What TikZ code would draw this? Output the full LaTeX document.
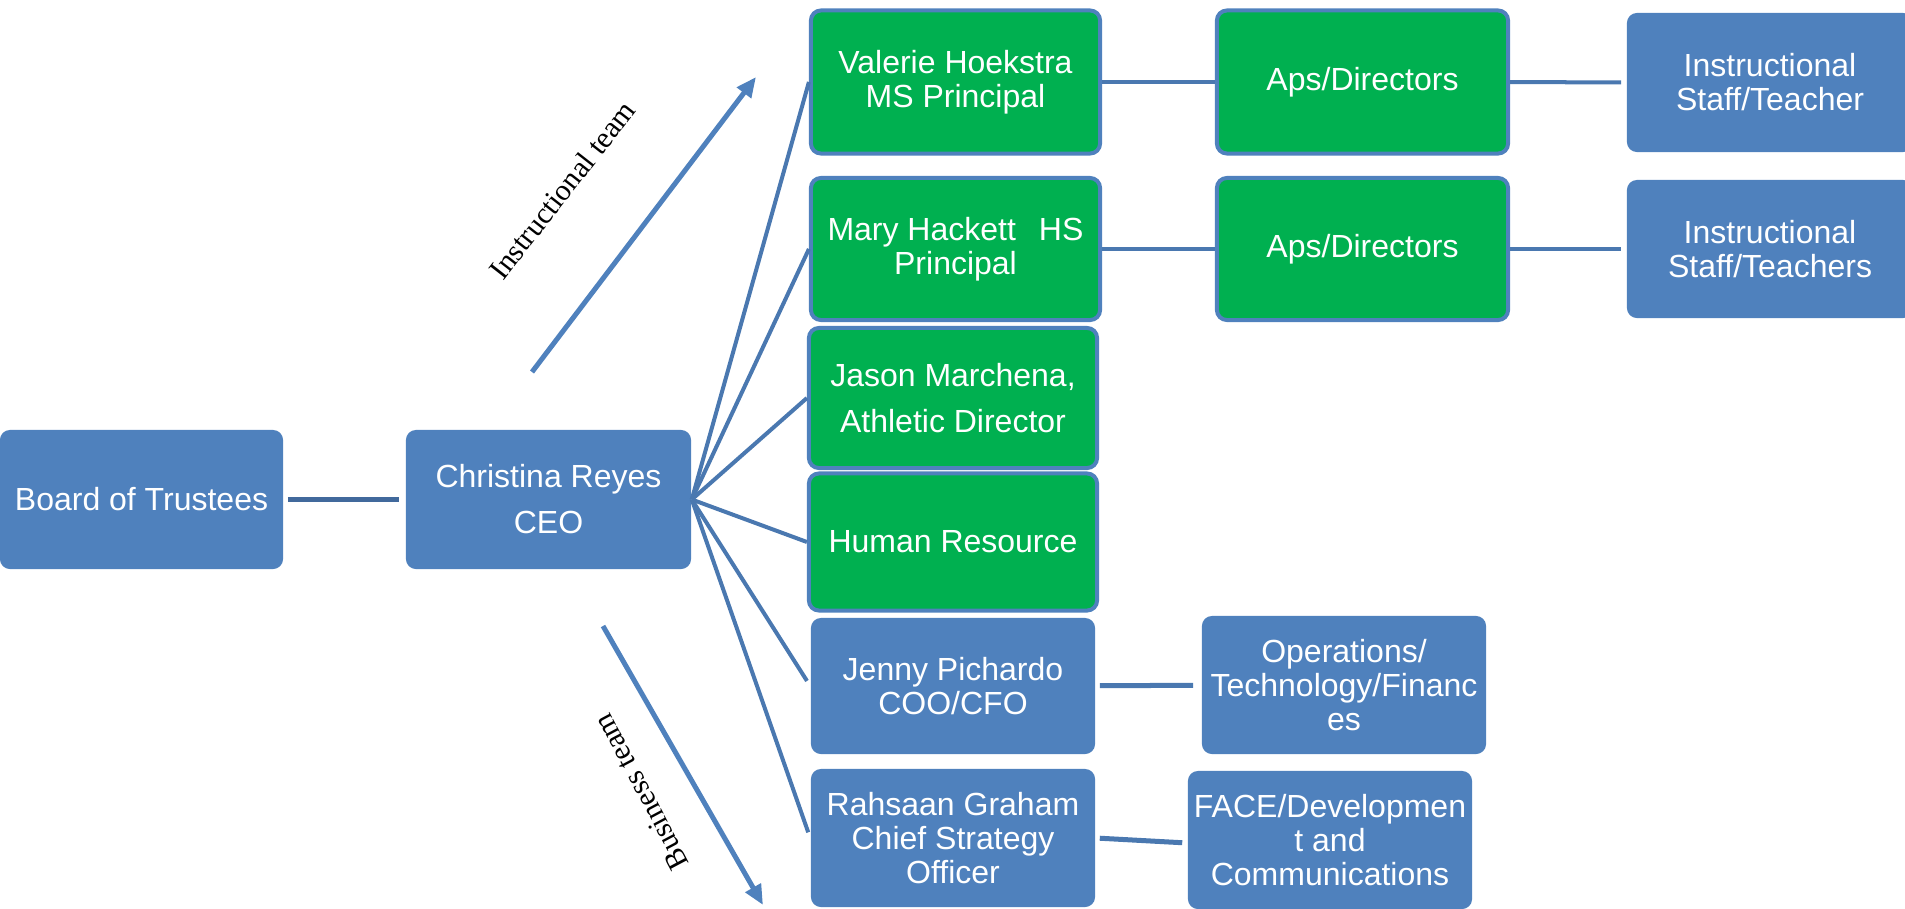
\documentclass[tikz,border=0pt]{standalone}
\usepackage{fontspec}
\setmainfont{Liberation Sans}
\newfontfamily\lblserif{Liberation Serif}
\usepackage{tikz}
\usetikzlibrary{arrows.meta,positioning}
\definecolor{boxblue}{HTML}{4F81BD}
\definecolor{boxgreen}{HTML}{00B050}
\definecolor{linkblue}{HTML}{4A78B0}
\definecolor{darklink}{HTML}{41699C}
\tikzset{
  orgbox/.style={rectangle, rounded corners=0.1cm, fill=#1, text=white, align=center, inner sep=0pt,
                 font=\fontsize{9.1}{9.7}\selectfont},
  teambox/.style={orgbox=boxgreen, draw=boxblue, line width=0.04cm},
  wide/.style={font=\fontsize{9.1}{13.1}\selectfont},
  link/.style={draw=linkblue, line width=0.04cm},
  arr/.style={-{Triangle[length=0.2cm, width=0.17cm]}, line width=0.05cm, draw=boxblue},
  lbl/.style={font=\lblserif\fontsize{8.5}{10}\selectfont, inner sep=0pt},
}

\begin{document}
\begin{tikzpicture}[x=0.01cm, y=-0.01cm]
  \useasboundingbox (0,0) rectangle (1905,909);
  % left column
  \node[orgbox=boxblue, minimum width=2.83cm, minimum height=1.39cm] (bt) at (141.5,499.5) {Board of Trustees};
  \node[orgbox=boxblue, wide, minimum width=2.85cm, minimum height=1.39cm] (ceo) at (548.5,499.5) {Christina Reyes\\CEO};
  % direct reports
  \node[teambox, minimum width=2.89cm, minimum height=1.43cm] (vh) at (955.5,82) {Valerie Hoekstra\\MS Principal};
  \node[teambox, minimum width=2.89cm, minimum height=1.42cm] (mh) at (955.5,249) {Mary Hackett\hspace{0.23cm}HS\\Principal};
  \node[teambox, wide, minimum width=2.88cm, minimum height=1.40cm] (jm) at (953,398) {Jason Marchena,\\Athletic Director};
  \node[teambox, minimum width=2.88cm, minimum height=1.37cm] (hr) at (953,542) {Human Resource};
  \node[orgbox=boxblue, minimum width=2.84cm, minimum height=1.36cm] (jp) at (953,686) {Jenny Pichardo\\COO/CFO};
  \node[orgbox=boxblue, minimum width=2.84cm, minimum height=1.38cm] (rg) at (953,838) {Rahsaan Graham\\Chief Strategy\\Officer};
  % second level
  \node[teambox, minimum width=2.91cm, minimum height=1.43cm] (ap1) at (1362.5,82) {Aps/Directors};
  \node[teambox, minimum width=2.91cm, minimum height=1.42cm] (ap2) at (1362.5,249) {Aps/Directors};
  \node[orgbox=boxblue, minimum width=2.86cm, minimum height=1.39cm] (is1) at (1770,82.5) {Instructional\\Staff/Teacher};
  \node[orgbox=boxblue, minimum width=2.86cm, minimum height=1.38cm] (is2) at (1770,249) {Instructional\\Staff/Teachers};
  \node[orgbox=boxblue, minimum width=2.84cm, minimum height=1.38cm] (ops) at (1344,685) {Operations/\\Technology/Financ\\es};
  \node[orgbox=boxblue, minimum width=2.84cm, minimum height=1.38cm] (face) at (1330,840) {FACE/Developmen\\t and\\Communications};
  % connectors
  \draw[darklink, line width=0.05cm, shorten <=0.04cm, shorten >=0.06cm] (bt) -- (ceo);
  \foreach \t in {vh,mh,jm,hr} \draw[link] (ceo.east) -- (\t.west);
  \foreach \t in {jp,rg} \draw[link, shorten >=0.06cm] (ceo.east) -- (\t.west);
  \draw[link] (vh) -- (ap1); \draw[link, shorten >=0.05cm] (ap1) -- (is1);
  \draw[link] (mh) -- (ap2); \draw[link, shorten >=0.05cm] (ap2) -- (is2);
  \draw[link, line width=0.05cm, shorten <=0.04cm, shorten >=0.08cm] (jp) -- (ops);
  \draw[link, line width=0.05cm, shorten <=0.04cm, shorten >=0.05cm] (rg.east) -- ([yshift=-0.03cm]face.west);
  % team arrows
  \coordinate (ia) at (532,372); \coordinate (ib) at (756,77);
  \coordinate (ba) at (603,626); \coordinate (bb) at (763,905);
  \draw[arr] (ia) -- (ib);
  \draw[arr] (ba) -- (bb);
  \node[lbl, rotate=52] (it) at (562,190) {Instructional team};
  \node[lbl, rotate=118] (bz) at (641,792) {Business team};
\end{tikzpicture}
\end{document}
